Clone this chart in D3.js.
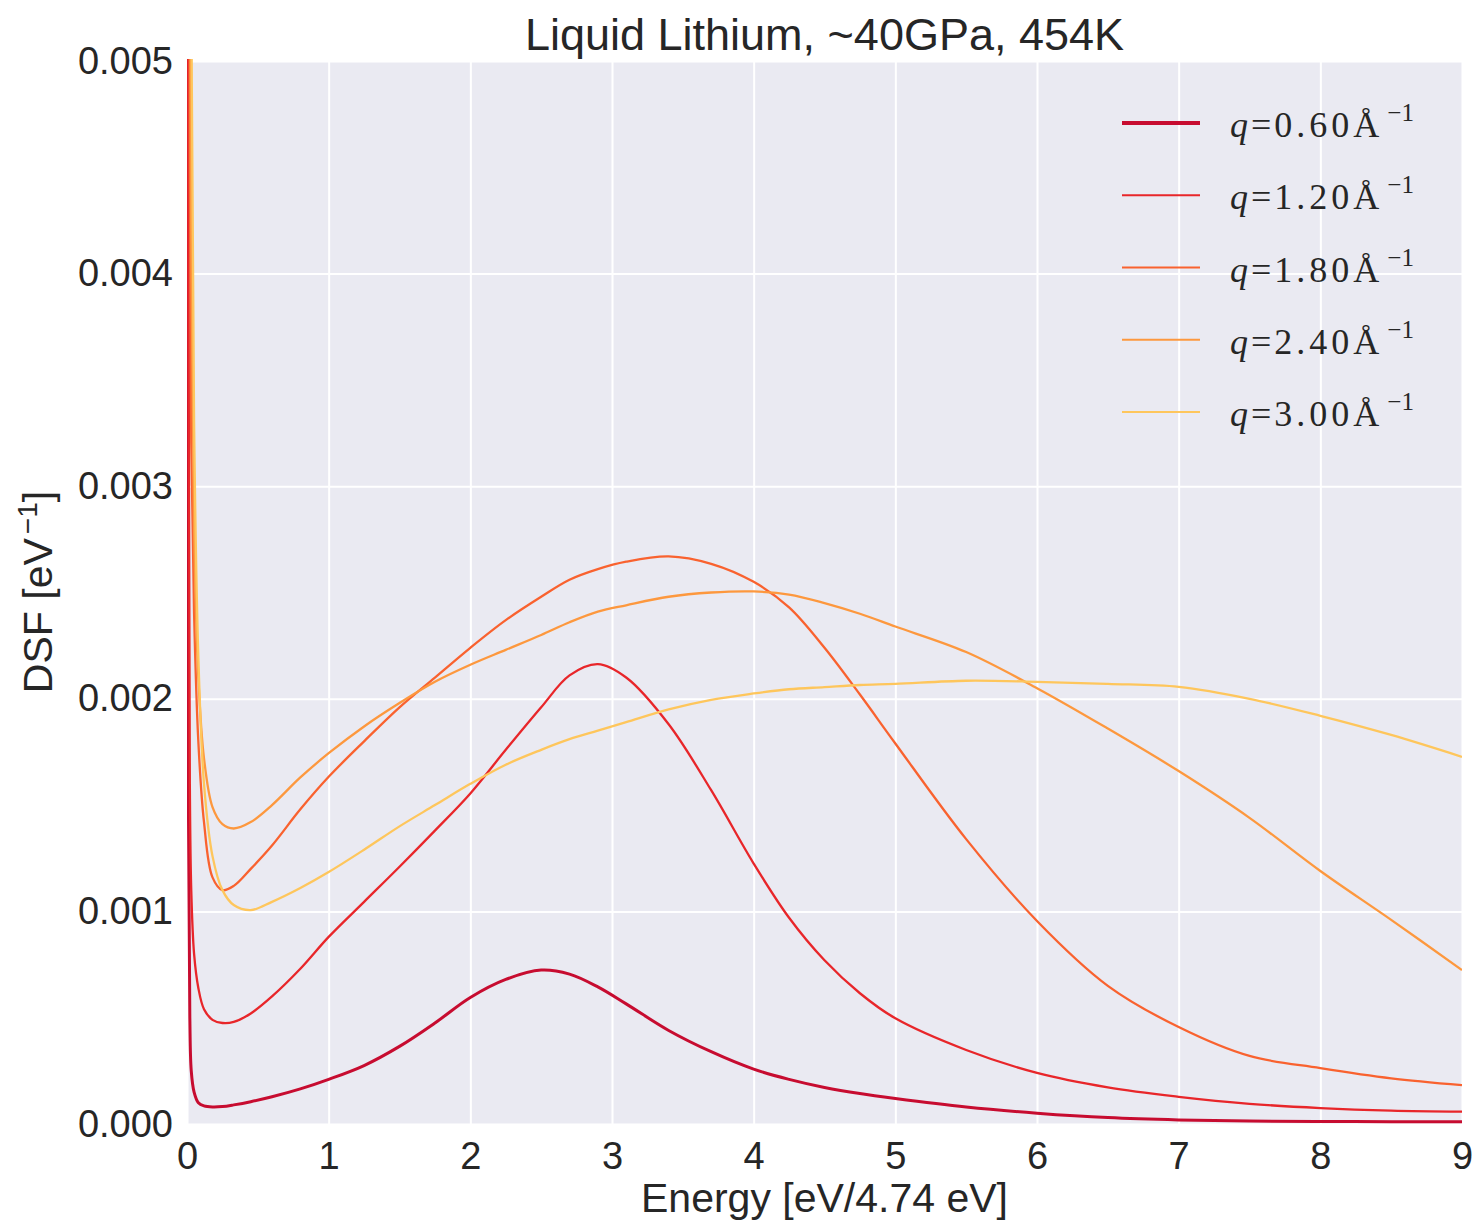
<!DOCTYPE html>
<html>
<head>
<meta charset="utf-8">
<script src="https://cdn.jsdelivr.net/npm/d3@7/dist/d3.min.js"></script>
<style>
  html, body { margin: 0; padding: 0; background: #ffffff; }
  svg { display: block; }
</style>
</head>
<body>
<svg id="chart" width="1474" height="1224"></svg>
<script>
// ---- data (DSF values in units of 1e-3 eV^-1) ----
const energy = [0, 0.01, 0.02, 0.03, 0.05, 0.08, 0.12, 0.18, 0.25, 0.33, 0.45, 0.6, 0.8, 1.0, 1.25, 1.5, 1.75, 2.0, 2.25, 2.5, 2.7, 2.9, 3.1, 3.4, 3.7, 4.0, 4.25, 4.5, 4.75, 5.0, 5.5, 6.0, 6.5, 7.0, 7.5, 8.0, 8.5, 9.0];

const dsf_q060 = [20, 1.5, 0.5, 0.25, 0.15, 0.1, 0.085, 0.08, 0.082, 0.09, 0.105, 0.128, 0.165, 0.21, 0.275, 0.365, 0.475, 0.595, 0.68, 0.724, 0.705, 0.645, 0.565, 0.44, 0.34, 0.258, 0.21, 0.172, 0.143, 0.12, 0.08, 0.051, 0.03, 0.019, 0.014, 0.012, 0.011, 0.01];
const dsf_q120 = [20, 4, 1.6, 1.1, 0.8, 0.64, 0.54, 0.49, 0.475, 0.48, 0.52, 0.6, 0.73, 0.88, 1.045, 1.21, 1.38, 1.555, 1.76, 1.96, 2.11, 2.163, 2.1, 1.88, 1.57, 1.225, 0.97, 0.77, 0.615, 0.497, 0.348, 0.24, 0.172, 0.128, 0.095, 0.075, 0.063, 0.058];
const dsf_q180 = [20, 8, 4.5, 3.2, 2.4, 1.8, 1.42, 1.16, 1.1, 1.12, 1.2, 1.31, 1.48, 1.633, 1.8, 1.96, 2.1, 2.24, 2.37, 2.48, 2.56, 2.61, 2.645, 2.67, 2.635, 2.55, 2.43, 2.24, 2.02, 1.79, 1.34, 0.955, 0.65, 0.456, 0.32, 0.263, 0.215, 0.183];
const dsf_q240 = [20, 10, 6, 4.2, 2.8, 2.1, 1.72, 1.49, 1.41, 1.39, 1.42, 1.5, 1.63, 1.744, 1.87, 1.98, 2.08, 2.16, 2.23, 2.30, 2.36, 2.41, 2.44, 2.48, 2.50, 2.505, 2.49, 2.45, 2.40, 2.34, 2.22, 2.05, 1.86, 1.66, 1.44, 1.19, 0.96, 0.724];
const dsf_q300 = [20, 12, 8, 5.5, 3.3, 2.2, 1.6, 1.26, 1.1, 1.03, 1.006, 1.045, 1.11, 1.185, 1.29, 1.4, 1.5, 1.6, 1.69, 1.76, 1.81, 1.85, 1.89, 1.95, 1.995, 2.025, 2.045, 2.055, 2.065, 2.07, 2.085, 2.08, 2.07, 2.056, 2.0, 1.92, 1.83, 1.727];

const seriesLabels = ["0.60", "1.20", "1.80", "2.40", "3.00"];
const seriesColors = ["#c70c30", "#e8262a", "#f9622f", "#fd983e", "#fec65c"];
const seriesWidths = [3, 2.3, 2.3, 2.3, 2.3];
const xTicks = [0, 1, 2, 3, 4, 5, 6, 7, 8, 9];
const yTicks = [0, 0.001, 0.002, 0.003, 0.004, 0.005];
const UNIT = 1e-3;

const allSeries = [dsf_q060, dsf_q120, dsf_q180, dsf_q240, dsf_q300];

// ---- layout ----
const svg = d3.select("#chart");
const pLeft = 187, pRight = 1462, pTop = 61, pBottom = 1124;
const x = d3.scaleLinear().domain([0, 9]).range([pLeft, pRight]);
const y = d3.scaleLinear().domain([0, 0.005]).range([pBottom, pTop]);

svg.append("rect").attr("x", pLeft).attr("y", pTop)
  .attr("width", pRight - pLeft).attr("height", pBottom - pTop)
  .attr("fill", "#eaeaf2");

// grid via axes
const gx = svg.append("g").attr("transform", `translate(0,${pBottom})`)
  .call(d3.axisBottom(x).tickValues(xTicks).tickSize(-(pBottom - pTop)).tickFormat(d3.format("d")).tickPadding(16));
const gy = svg.append("g").attr("transform", `translate(${pLeft},0)`)
  .call(d3.axisLeft(y).tickValues(yTicks).tickSize(-(pRight - pLeft)).tickFormat(d3.format(".3f")).tickPadding(14));

[gx, gy].forEach(g => {
  g.select(".domain").remove();
  g.selectAll(".tick line").attr("stroke", "#ffffff").attr("stroke-width", 2);
  g.selectAll(".tick text").attr("fill", "#262626")
    .style("font-family", "'Liberation Sans', Arial, sans-serif")
    .style("font-size", "38px");
});
gx.selectAll(".tick text").attr("dy", "0.75em");

// clip
svg.append("clipPath").attr("id", "plotclip").append("rect")
  .attr("x", pLeft).attr("y", pTop - 2).attr("width", pRight - pLeft).attr("height", pBottom - pTop + 2);

const line = d3.line().x(d => x(d[0])).y(d => y(d[1])).curve(d3.curveCatmullRom.alpha(0.5));
const linesG = svg.append("g").attr("clip-path", "url(#plotclip)");
allSeries.forEach((vals, i) => {
  const pts = energy.map((e, k) => [e, vals[k] * UNIT]);
  linesG.append("path").datum(pts)
    .attr("d", line)
    .attr("fill", "none")
    .attr("stroke", seriesColors[i])
    .attr("stroke-width", seriesWidths[i])
    .attr("stroke-linejoin", "round");
});

// title & axis labels
svg.append("text").attr("x", (pLeft + pRight) / 2).attr("y", 50)
  .attr("text-anchor", "middle").attr("fill", "#262626")
  .style("font-family", "'Liberation Sans', Arial, sans-serif").style("font-size", "45px")
  .text("Liquid Lithium, ~40GPa, 454K");

svg.append("text").attr("x", (pLeft + pRight) / 2).attr("y", 1212)
  .attr("text-anchor", "middle").attr("fill", "#262626")
  .style("font-family", "'Liberation Sans', Arial, sans-serif").style("font-size", "41px")
  .text("Energy [eV/4.74 eV]");

const yl = svg.append("text")
  .attr("transform", `translate(52,592) rotate(-90)`)
  .attr("text-anchor", "middle").attr("fill", "#262626")
  .style("font-family", "'Liberation Sans', Arial, sans-serif").style("font-size", "41px");
yl.append("tspan").text("DSF [eV");
yl.append("tspan").attr("dx", 4).attr("dy", "-15").style("font-size", "28px").text("−1");
yl.append("tspan").attr("dy", "15").text("]");

// legend
const legendY = d3.scaleLinear().domain([0, 4]).range([123, 412]);
seriesLabels.forEach((lab, i) => {
  const yy = legendY(i);
  svg.append("line").attr("x1", 1122).attr("x2", 1200).attr("y1", yy).attr("y2", yy)
    .attr("stroke", seriesColors[i]).attr("stroke-width", i === 0 ? 4 : 2);
  const t = svg.append("text").attr("x", 1230).attr("y", yy + 14)
    .attr("fill", "#262626")
    .style("font-family", "'Liberation Serif', 'DejaVu Serif', serif").style("font-size", "36px");
  t.append("tspan").style("font-style", "italic").text("q");
  t.append("tspan").attr("dx", 3).text("=");
  t.append("tspan").attr("dx", 3).style("letter-spacing", "4px").text(lab + "Å");
  t.append("tspan").attr("dx", 4).attr("dy", -16).style("font-size", "25px").text("−1");
});
</script>
</body>
</html>
